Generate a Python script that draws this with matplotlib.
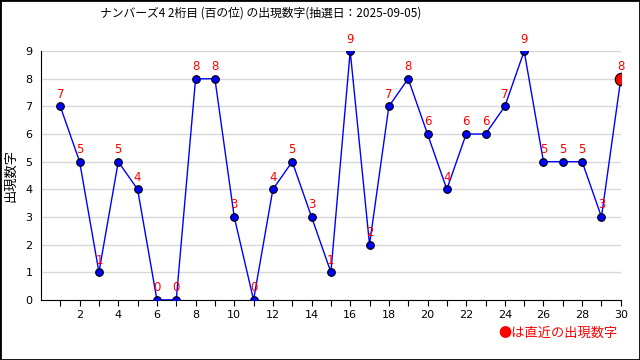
import numpy as np
import matplotlib.pyplot as plt
from matplotlib.patches import Rectangle

plt.rcParams['font.family'] = ['Noto Sans CJK JP', 'DejaVu Sans']

# draw number (1 = oldest, 30 = latest)
draws = list(range(1, 31))
digits = [7, 5, 1, 5, 4, 0, 0, 8, 8, 3,
          0, 4, 5, 3, 1, 9, 2, 7, 8, 6,
          4, 6, 6, 7, 9, 5, 5, 5, 3, 8]
title = 'ナンバーズ4 2桁目 (百の位) の出現数字(抽選日：2025-09-05)'
ylabel = '出現数字'
note = '●は直近の出現数字'

fig = plt.figure(figsize=(6.4, 3.6), dpi=100)
ax = fig.add_axes([0.064, 0.167, 0.906, 0.691])

ax.plot(draws, digits, color='#0000ff', linewidth=1, marker='o', markersize=5.5,
        markerfacecolor='#0000ff', markeredgecolor='black', markeredgewidth=0.8, zorder=3)
ax.plot(draws[-1], digits[-1], marker='o', markersize=9, color='#ff0000',
        markeredgecolor='black', markeredgewidth=0.8, zorder=4)

for x, y in zip(draws, digits):
    ax.annotate(str(y), (x, y), xytext=(0, 4), textcoords='offset points',
                ha='center', va='bottom', color='#ff0000', fontsize=8.5,
                family='DejaVu Sans', annotation_clip=False)

ax.set_xlim(0, 30)
ax.set_ylim(0, 9)
ax.set_xticks(draws)
ax.set_xticklabels([str(d) if d % 2 == 0 else '' for d in draws])
ax.set_yticks(range(10))
ax.tick_params(axis='y', length=0, labelsize=8, pad=6)
ax.tick_params(axis='x', length=4, direction='out', labelsize=8)
for lab in ax.get_xticklabels() + ax.get_yticklabels():
    lab.set_family('DejaVu Sans')
ax.grid(axis='y', color='#d8d8d8', linewidth=1)
ax.set_axisbelow(True)
ax.spines['top'].set_visible(False)
ax.spines['right'].set_visible(False)
ax.set_ylabel(ylabel, fontsize=9.5, labelpad=6)

fig.text(0.408, 0.965, title, ha='center', va='center', fontsize=8.5)
fig.text(0.965, 0.075, note, ha='right', va='center', fontsize=9.5, color='#ff0000')
fig.patches.append(Rectangle((0, 0), 1, 1, transform=fig.transFigure, fill=False,
                             edgecolor='black', linewidth=2))

fig.savefig('out.png', dpi=100)
